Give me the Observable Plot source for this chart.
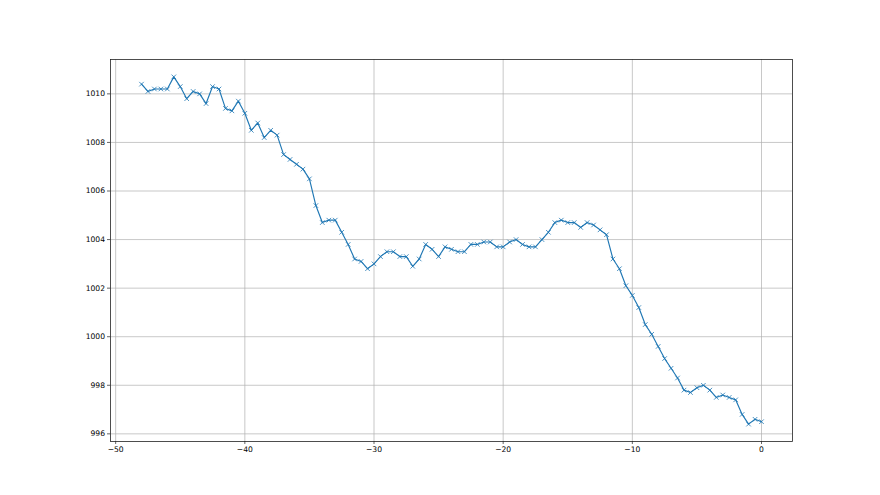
<!DOCTYPE html>
<html>
<head>
<meta charset="utf-8">
<script src="https://cdn.jsdelivr.net/npm/d3@7"></script>
<script src="https://cdn.jsdelivr.net/npm/@observablehq/plot@0.6"></script>
<style>
  html, body { margin: 0; padding: 0; background: #fff; }
  #chart svg { display: block; }
</style>
</head>
<body>
<div id="chart"></div>
<script>
const xValues = [
  -48, -47.5, -47, -46.5, -46, -45.5, -45, -44.5, -44, -43.5,
  -43, -42.5, -42, -41.5, -41, -40.5, -40, -39.5, -39, -38.5,
  -38, -37.5, -37, -36.5, -36, -35.5, -35, -34.5, -34, -33.5,
  -33, -32.5, -32, -31.5, -31, -30.5, -30, -29.5, -29, -28.5,
  -28, -27.5, -27, -26.5, -26, -25.5, -25, -24.5, -24, -23.5,
  -23, -22.5, -22, -21.5, -21, -20.5, -20, -19.5, -19, -18.5,
  -18, -17.5, -17, -16.5, -16, -15.5, -15, -14.5, -14, -13.5,
  -13, -12.5, -12, -11.5, -11, -10.5, -10, -9.5, -9, -8.5,
  -8, -7.5, -7, -6.5, -6, -5.5, -5, -4.5, -4, -3.5,
  -3, -2.5, -2, -1.5, -1, -0.5, 0
];
const pressure = [
  1010.4, 1010.1, 1010.2, 1010.2, 1010.2, 1010.7, 1010.3, 1009.8, 1010.1, 1010.0,
  1009.6, 1010.3, 1010.2, 1009.4, 1009.3, 1009.7, 1009.2, 1008.5, 1008.8, 1008.2,
  1008.5, 1008.3, 1007.5, 1007.3, 1007.1, 1006.9, 1006.5, 1005.4, 1004.7, 1004.8,
  1004.8, 1004.3, 1003.8, 1003.2, 1003.1, 1002.8, 1003.0, 1003.3, 1003.5, 1003.5,
  1003.3, 1003.3, 1002.9, 1003.2, 1003.8, 1003.6, 1003.3, 1003.7, 1003.6, 1003.5,
  1003.5, 1003.8, 1003.8, 1003.9, 1003.9, 1003.7, 1003.7, 1003.9, 1004.0, 1003.8,
  1003.7, 1003.7, 1004.0, 1004.3, 1004.7, 1004.8, 1004.7, 1004.7, 1004.5, 1004.7,
  1004.6, 1004.4, 1004.2, 1003.2, 1002.8, 1002.1, 1001.7, 1001.2, 1000.5, 1000.1,
  999.6, 999.1, 998.7, 998.3, 997.8, 997.7, 997.9, 998.0, 997.8, 997.5,
  997.6, 997.5, 997.4, 996.8, 996.4, 996.6, 996.5
];
const xTicks = [-50, -40, -30, -20, -10, 0];
const yTicks = [996, 998, 1000, 1002, 1004, 1006, 1008, 1010];

const data = xValues.map((x, i) => ({x, y: pressure[i]}));

const xMin = d3.min(xValues), xMax = d3.max(xValues);
const yMin = d3.min(pressure), yMax = d3.max(pressure);
const xPad = (xMax - xMin) * 0.05, yPad = (yMax - yMin) * 0.05;

const color = "#1f77b4";
const chart = Plot.plot({
  width: 880,
  height: 495,
  marginLeft: 110,
  marginRight: 88,
  marginTop: 59,
  marginBottom: 54,
  style: {fontFamily: "DejaVu Sans", fontSize: "7.6px", color: "#000", background: "#fff"},
  x: {domain: [xMin - xPad, xMax + xPad], label: null},
  y: {domain: [yMin - yPad, yMax + yPad], label: null},
  marks: [
    Plot.gridX(xTicks, {stroke: "#b0b0b0", strokeOpacity: 1, strokeWidth: 0.7}),
    Plot.gridY(yTicks, {stroke: "#b0b0b0", strokeOpacity: 1, strokeWidth: 0.7}),
    Plot.axisX({ticks: xTicks, tickSize: 3, tickPadding: 2.5, stroke: "#222", strokeWidth: 0.7, fill: "#000", tickFormat: d => d3.format("")(d)}),
    Plot.axisY({ticks: yTicks, tickSize: 3, tickPadding: 2.5, stroke: "#222", strokeWidth: 0.7, fill: "#000", tickFormat: d => d3.format("")(d)}),
    Plot.frame({stroke: "#222", strokeWidth: 0.8}),
    Plot.line(data, {x: "x", y: "y", stroke: color, strokeWidth: 1.15}),
    Plot.dot(data, {x: "x", y: "y", symbol: "times", r: 2.2, stroke: color, strokeWidth: 0.8})
  ]
});
document.getElementById("chart").appendChild(chart);
</script>
</body>
</html>
